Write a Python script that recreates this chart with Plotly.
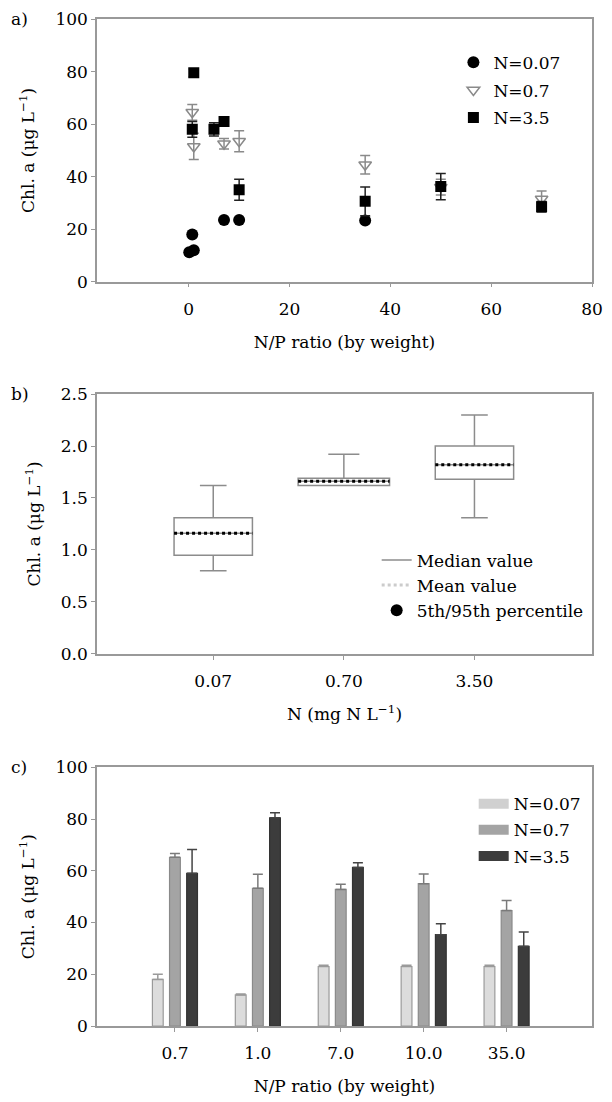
import plotly.graph_objects as go

# ---------------- Panel a data ----------------
a_n007_x = [0.1, 0.7, 1.0, 7, 10, 35]
a_n007_y = [11.2, 18.0, 12.0, 23.5, 23.5, 23.3]

a_n07_x = [0.7, 1.0, 7, 10, 35, 50, 70]
a_n07_y = [64.5, 51.5, 52.5, 53.5, 44.5, 36.0, 31.5]
a_n07_err = [3.0, 5.0, 2.0, 4.0, 3.5, 3.0, 3.0]

a_n35_x = [0.7, 1.0, 5, 7, 10, 35, 50, 70]
a_n35_y = [58.0, 79.5, 58.0, 61.0, 35.0, 30.6, 36.2, 28.5]
a_n35_err = [3.0, 1.5, 2.5, 1.5, 4.0, 5.5, 5.0, 2.0]

# ---------------- Panel b data ----------------
b_labels = ["0.07", "0.70", "3.50"]
b_q1 = [0.95, 1.62, 1.68]
b_median = [1.16, 1.66, 1.82]
b_q3 = [1.31, 1.69, 2.00]
b_low = [0.80, 1.62, 1.31]
b_high = [1.62, 1.92, 2.30]
b_mean = [1.16, 1.66, 1.82]
b_width = [0.6, 0.7, 0.6]

# ---------------- Panel c data ----------------
c_labels = ["0.7", "1.0", "7.0", "10.0", "35.0"]
c_n007 = [18.0, 12.0, 23.0, 23.0, 23.0]
c_n007_err = [2.0, 0.4, 0.5, 0.5, 0.5]
c_n07 = [65.2, 53.2, 52.8, 55.0, 44.6]
c_n07_err = [1.5, 5.5, 2.0, 3.8, 3.9]
c_n35 = [59.0, 80.5, 61.3, 35.3, 30.8]
c_n35_err = [9.2, 1.9, 1.8, 4.2, 5.5]

FONT = "DejaVu Serif"
AX = "#999999"

fig = go.Figure()

# ---- Panel a ----
fig.add_trace(go.Scatter(
    x=a_n007_x, y=a_n007_y, mode="markers", name="N=0.07",
    marker=dict(symbol="circle", size=12, color="black"),
    xaxis="x", yaxis="y", legend="legend", legendgroup="a1"))
fig.add_trace(go.Scatter(
    x=a_n07_x, y=a_n07_y, mode="markers", name="N=0.7",
    marker=dict(symbol="triangle-down-open", size=11, color="#8a8a8a",
                line=dict(width=1.5, color="#8a8a8a")),
    error_y=dict(type="data", array=a_n07_err, color="#8a8a8a", thickness=1.5, width=5),
    xaxis="x", yaxis="y", legend="legend", legendgroup="a2"))
fig.add_trace(go.Scatter(
    x=a_n35_x, y=a_n35_y, mode="markers", name="N=3.5",
    marker=dict(symbol="square", size=11, color="black"),
    error_y=dict(type="data", array=a_n35_err, color="#222222", thickness=1.5, width=5),
    xaxis="x", yaxis="y", legend="legend", legendgroup="a3"))

# ---- Panel b ----
for i in range(len(b_labels)):
    fig.add_trace(go.Box(
        x=[i], q1=[b_q1[i]], median=[b_median[i]], q3=[b_q3[i]],
        lowerfence=[b_low[i]], upperfence=[b_high[i]],
        width=b_width[i], whiskerwidth=0.34,
        fillcolor="white", line=dict(color="#8c8c8c", width=1.5),
        boxpoints=False, showlegend=False, xaxis="x2", yaxis="y2"))
mean_x, mean_y = [], []
for i in range(len(b_labels)):
    mean_x += [i - b_width[i] / 2, i + b_width[i] / 2, None]
    mean_y += [b_mean[i], b_mean[i], None]
fig.add_trace(go.Scatter(
    x=mean_x, y=mean_y, mode="lines", showlegend=False,
    line=dict(color="black", width=3, dash="dot"), xaxis="x2", yaxis="y2"))
# legend-only entries
fig.add_trace(go.Scatter(x=[None], y=[None], mode="lines", name="Median value",
                         line=dict(color="#8c8c8c", width=1.5),
                         xaxis="x2", yaxis="y2", legend="legend2"))
fig.add_trace(go.Scatter(x=[None], y=[None], mode="lines", name="Mean value",
                         line=dict(color="#cccccc", width=3, dash="dot"),
                         xaxis="x2", yaxis="y2", legend="legend2"))
fig.add_trace(go.Scatter(x=[None], y=[None], mode="markers", name="5th/95th percentile",
                         marker=dict(color="black", size=12, symbol="circle"),
                         xaxis="x2", yaxis="y2", legend="legend2"))

# ---- Panel c ----
c_x = list(range(len(c_labels)))
bar_specs = [
    ("N=0.07", c_n007, c_n007_err, "#dcdcdc", "#9a9a9a", "#9a9a9a"),
    ("N=0.7", c_n07, c_n07_err, "#a4a4a4", "#8a8a8a", "#7a7a7a"),
    ("N=3.5", c_n35, c_n35_err, "#3c3c3c", "#333333", "#444444"),
]
for k, (nm, vals, errs, fc, lc, ec) in enumerate(bar_specs):
    fig.add_trace(go.Bar(
        x=c_x, y=vals, name=nm, showlegend=False,
        marker=dict(color=fc, line=dict(color=lc, width=1.2)),
        error_y=dict(type="data", symmetric=False, array=errs,
                     arrayminus=[0] * len(errs), color=ec, thickness=1.5, width=5),
        xaxis="x3", yaxis="y3"))
    fig.add_trace(go.Scatter(
        x=[None], y=[None], mode="lines", name=nm,
        line=dict(color=fc if k else "#d0d0d0", width=10),
        xaxis="x3", yaxis="y3", legend="legend3", legendgroup="c%d" % k))

common = dict(showline=True, linecolor=AX, linewidth=1.5, mirror=True,
              ticks="outside", ticklen=4, tickcolor=AX, tickwidth=1.2,
              showgrid=False, zeroline=False,
              tickfont=dict(family=FONT, size=17, color="black"))
ytitle = "Chl. a (μg L<sup>−1</sup>)"

# domains (paper fractions within plot area)
dom_a = [0.7391, 1.0]
dom_b = [0.3696, 0.6275]
dom_c = [0.0, 0.2569]

fig.update_layout(
    width=612, height=1102,
    margin=dict(l=97, r=9, t=15, b=75),
    paper_bgcolor="white", plot_bgcolor="white",
    font=dict(family=FONT, size=17, color="black"),
    barmode="group", bargap=0.38, bargroupgap=0.37,
    xaxis=dict(common, domain=[0, 1], anchor="y", range=[-18.2, 80],
               tickvals=[0, 20, 40, 60, 80], ticklabelstandoff=7,
               title=dict(text="N/P ratio (by weight)", standoff=18,
                          font=dict(family=FONT, size=17))),
    yaxis=dict(common, domain=dom_a, anchor="x", range=[0, 100], dtick=20,
               title=dict(text=ytitle, standoff=16, font=dict(family=FONT, size=17))),
    xaxis2=dict(common, domain=[0, 1], anchor="y2", range=[-0.89, 2.9],
                tickvals=[0, 1, 2], ticktext=b_labels, ticklabelstandoff=7,
                title=dict(text="N (mg N L<sup>−1</sup>)", standoff=18,
                           font=dict(family=FONT, size=17))),
    yaxis2=dict(common, domain=dom_b, anchor="x2", range=[0, 2.5], dtick=0.5,
                tickformat=".1f",
                title=dict(text=ytitle, standoff=16, font=dict(family=FONT, size=17))),
    xaxis3=dict(common, domain=[0, 1], anchor="y3", range=[-0.94, 5.03],
                tickvals=c_x, ticktext=c_labels, ticklabelstandoff=7,
                title=dict(text="N/P ratio (by weight)", standoff=18,
                           font=dict(family=FONT, size=17))),
    yaxis3=dict(common, domain=dom_c, anchor="x3", range=[0, 100], dtick=20,
                title=dict(text=ytitle, standoff=16, font=dict(family=FONT, size=17))),
    legend=dict(x=0.72, y=0.9744, xanchor="left", yanchor="top",
                bgcolor="rgba(0,0,0,0)", tracegroupgap=2.5,
                font=dict(family=FONT, size=17)),
    legend2=dict(x=0.565, y=0.4802, xanchor="left", yanchor="top",
                 bgcolor="rgba(0,0,0,0)", font=dict(family=FONT, size=17)),
    legend3=dict(x=0.761, y=0.2382, xanchor="left", yanchor="top",
                 bgcolor="rgba(0,0,0,0)", tracegroupgap=1,
                 font=dict(family=FONT, size=17)),
    showlegend=True,
)

for txt, yy in [("a)", dom_a[1]), ("b)", dom_b[1]), ("c)", dom_c[1])]:
    fig.add_annotation(text=txt, xref="paper", yref="paper", x=-0.178, y=yy,
                       xanchor="left", yanchor="middle", showarrow=False,
                       font=dict(family=FONT, size=17, color="black"))

fig.write_html("out.html")
